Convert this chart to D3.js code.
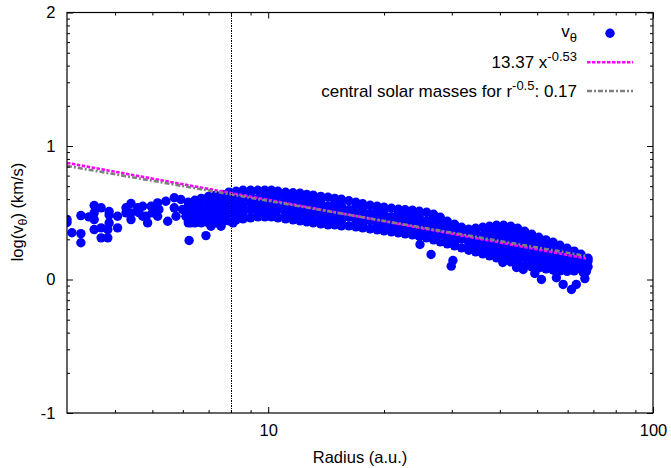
<!DOCTYPE html>
<html>
<head>
<meta charset="utf-8">
<script src="https://cdn.jsdelivr.net/npm/d3@7/dist/d3.min.js"></script>
<style>
  html, body { margin: 0; padding: 0; background: #fff; }
  svg { display: block; }
  text { font-family: "Liberation Sans", Arial, Helvetica, sans-serif; fill: #000; }
</style>
</head>
<body>
<svg id="chart" width="671" height="468"></svg>
<script>
// ---------------- data ----------------
const xMajorTicks = [10, 100];
const xMinorTicks = [4, 5, 6, 7, 8, 9, 20, 30, 40, 50, 60, 70, 80, 90];
const yMajorTicks = [-1, 0, 1, 2];
const markerRadius = 8;            // vertical line at r = 8 a.u.
const fitCoef = 13.37, fitExp = -0.53;
const solarMass = 0.17, keplerExp = -0.5;
const fitRange = [3, 67];

// dense band of v_theta points: [radius, [log v values]]
const bandColumns = [
  [6.2,  [0.579, 0.55, 0.495, 0.44, 0.424]],
  [6.45, [0.594, 0.578, 0.523, 0.468, 0.424]],
  [6.7,  [0.608, 0.55, 0.495, 0.44, 0.424]],
  [7.0,  [0.623, 0.578, 0.523, 0.468, 0.424]],
  [7.3,  [0.631, 0.605, 0.55, 0.495, 0.44, 0.424]],
  [7.6,  [0.638, 0.578, 0.523, 0.468, 0.432]],
  [7.9,  [0.653, 0.605, 0.55, 0.495, 0.439]],
  [8.25, [0.661, 0.633, 0.578, 0.523, 0.468, 0.447]],
  [8.6,  [0.668, 0.605, 0.55, 0.495, 0.454]],
  [9.0,  [0.668, 0.633, 0.578, 0.523, 0.462]],
  [9.4,  [0.668, 0.605, 0.55, 0.495, 0.469]],
  [9.8,  [0.668, 0.633, 0.578, 0.523, 0.469]],
  [10.2, [0.668, 0.605, 0.55, 0.495, 0.469]],
  [10.6, [0.661, 0.633, 0.578, 0.523, 0.462]],
  [11.1, [0.653, 0.605, 0.55, 0.495, 0.454]],
  [11.6, [0.65, 0.633, 0.578, 0.523, 0.468, 0.447]],
  [12.1, [0.646, 0.605, 0.55, 0.495, 0.439]],
  [12.6, [0.638, 0.578, 0.523, 0.468, 0.432]],
  [13.1, [0.631, 0.605, 0.55, 0.495, 0.44, 0.424]],
  [13.7, [0.623, 0.578, 0.523, 0.468, 0.417]],
  [14.3, [0.616, 0.55, 0.495, 0.44, 0.409]],
  [14.9, [0.608, 0.578, 0.523, 0.468, 0.409]],
  [15.5, [0.601, 0.55, 0.495, 0.44, 0.402]],
  [16.2, [0.59, 0.523, 0.468, 0.402]],
  [16.9, [0.579, 0.55, 0.495, 0.44, 0.394]],
  [17.6, [0.567, 0.523, 0.468, 0.413, 0.387]],
  [18.4, [0.556, 0.495, 0.44, 0.379]],
  [19.2, [0.549, 0.523, 0.468, 0.413, 0.372]],
  [20.0, [0.541, 0.495, 0.44, 0.385, 0.364]],
  [20.9, [0.534, 0.468, 0.413, 0.357]],
  [21.8, [0.526, 0.495, 0.44, 0.385, 0.349]],
  [22.7, [0.522, 0.468, 0.413, 0.358, 0.342]],
  [23.7, [0.519, 0.495, 0.44, 0.385, 0.334]],
  [24.7, [0.511, 0.468, 0.413, 0.358, 0.323]],
  [25.8, [0.504, 0.44, 0.385, 0.33, 0.312]],
  [26.9, [0.489, 0.468, 0.413, 0.358, 0.297]],
  [28.0, [0.466, 0.44, 0.385, 0.33, 0.282]],
  [29.2, [0.436, 0.413, 0.358, 0.303, 0.267]],
  [30.5, [0.414, 0.385, 0.33, 0.275, 0.252]],
  [31.8, [0.391, 0.358, 0.303, 0.237]],
  [33.2, [0.376, 0.33, 0.275, 0.219]],
  [34.6, [0.384, 0.358, 0.303, 0.248, 0.207]],
  [36.1, [0.391, 0.33, 0.275, 0.22, 0.192]],
  [37.6, [0.399, 0.358, 0.303, 0.248, 0.193, 0.177]],
  [39.2, [0.406, 0.385, 0.33, 0.275, 0.22, 0.162]],
  [40.9, [0.406, 0.358, 0.303, 0.248, 0.193, 0.147]],
  [42.7, [0.399, 0.385, 0.33, 0.275, 0.22, 0.165, 0.132]],
  [44.5, [0.384, 0.358, 0.303, 0.248, 0.193, 0.138, 0.117]],
  [46.4, [0.361, 0.33, 0.275, 0.22, 0.165, 0.106]],
  [48.4, [0.339, 0.303, 0.248, 0.193, 0.138, 0.095]],
  [50.5, [0.316, 0.275, 0.22, 0.165, 0.11, 0.087]],
  [52.7, [0.297, 0.248, 0.193, 0.138, 0.08]],
  [55.0, [0.279, 0.22, 0.165, 0.11, 0.072]],
  [57.3, [0.256, 0.193, 0.138, 0.083, 0.065]],
  [59.8, [0.234, 0.22, 0.165, 0.11, 0.061]],
  [62.4, [0.212, 0.193, 0.138, 0.083, 0.065]],
  [65.0, [0.189, 0.165, 0.11, 0.08]],
  [67.8, [0.159, 0.138, 0.095]]
];

// scattered v_theta points: [radius, log v]
const scatterPoints = [
  [3.0, 0.449], [3.0, 0.427], [3.09, 0.35], [3.26, 0.479], [3.26, 0.344], [3.26, 0.275],
  [3.42, 0.469], [3.53, 0.554], [3.53, 0.499], [3.53, 0.449], [3.53, 0.374],
  [3.68, 0.537], [3.68, 0.387], [3.68, 0.312], [3.83, 0.374], [3.83, 0.312],
  [3.86, 0.509], [3.86, 0.483], [3.86, 0.424], [4.06, 0.474], [4.06, 0.387],
  [4.27, 0.537], [4.27, 0.499], [4.40, 0.569], [4.40, 0.499], [4.40, 0.449],
  [4.58, 0.537], [4.61, 0.501], [4.72, 0.549], [4.72, 0.474], [4.82, 0.474], [4.86, 0.424],
  [4.96, 0.549], [5.0, 0.499], [5.16, 0.574], [5.2, 0.524], [5.16, 0.474],
  [5.42, 0.586], [5.48, 0.436], [5.70, 0.612], [5.70, 0.537], [5.76, 0.474],
  [5.93, 0.599], [5.99, 0.524], [6.11, 0.474], [6.23, 0.292], [6.3, 0.424],
  [6.6, 0.436], [6.89, 0.329], [7.10, 0.399], [7.54, 0.399], [8.1, 0.424],
  [24.8, 0.262], [26.5, 0.187], [30.2, 0.142], [29.9, 0.10],
  [40.7, 0.127], [44.2, 0.09], [46.0, 0.075],
  [49.3, 0.045], [51.3, 0.0], [56.1, 0.013], [55.9, 0.062], [58.4, -0.037],
  [61.4, -0.075], [63.2, -0.037], [65.8, 0.055], [66.5, 0.007], [67.1, 0.06]
];

// ---------------- chart ----------------
const svg = d3.select("#chart");
const L = 67, R = 653, T = 12.5, B = 413;
const FS = "16.5px", FSS = "12.5px";      // axis text
const LFS = "17px", LFSS = "13px";        // legend text
const x = d3.scaleLog().domain([3, 100]).range([L, R]);
const y = d3.scaleLinear().domain([-1, 2]).range([B, T]);

const yMinorTicks = [];
yMajorTicks.slice(0, -1).forEach(n => { for (let k = 2; k <= 9; k++) yMinorTicks.push(n + Math.log10(k)); });

svg.append("defs").append("clipPath").attr("id", "plotclip")
  .append("rect").attr("x", L).attr("y", T).attr("width", R - L).attr("height", B - T);

// points
const points = [];
bandColumns.forEach(([r, vs]) => vs.forEach(v => points.push([r, v])));
scatterPoints.forEach(p => points.push(p));

svg.append("g").attr("clip-path", "url(#plotclip)")
  .selectAll("circle").data(points).join("circle")
  .attr("cx", d => x(d[0])).attr("cy", d => y(d[1])).attr("r", 4.7)
  .attr("fill", "#0000ff");

// fit lines
const fitLine = d3.line().x(d => x(d[0])).y(d => y(d[1]));
const pinkData = fitRange.map(r => [r, Math.log10(fitCoef * Math.pow(r, fitExp))]);
const keplerCoef = 29.78 * Math.sqrt(solarMass);
const greyData = fitRange.map(r => [r, Math.log10(keplerCoef * Math.pow(r, keplerExp))]);

const PINK_DASH = "3.5,1.5", GREY_DASH = "5,2,2,2";
svg.append("path").attr("d", fitLine(pinkData)).attr("fill", "none")
  .attr("stroke", "#ff00ff").attr("stroke-width", 2.6).attr("stroke-dasharray", PINK_DASH);
svg.append("path").attr("d", fitLine(greyData)).attr("fill", "none")
  .attr("stroke", "#808080").attr("stroke-width", 2.6).attr("stroke-dasharray", GREY_DASH);

// vertical marker
const mx = Math.round(x(markerRadius)) + 0.5;
svg.append("line").attr("x1", mx).attr("x2", mx)
  .attr("y1", T).attr("y2", B).attr("stroke", "#000").attr("stroke-width", 1)
  .attr("stroke-dasharray", "1.5,1").attr("shape-rendering", "crispEdges");

// axes
function styleAxis(g) {
  g.select(".domain").remove();
  g.selectAll(".tick line").attr("stroke", "#000").attr("stroke-width", 1);
  g.selectAll("text").style("font-size", FS).style("font-family", "Liberation Sans, Arial, sans-serif");
}
const fmt = d => String(d);
svg.append("g").attr("transform", `translate(0,${B})`)
  .call(d3.axisBottom(x).tickValues(xMajorTicks).tickFormat(fmt).tickSize(-6).tickPadding(11)).call(styleAxis);
svg.append("g").attr("transform", `translate(0,${B})`)
  .call(d3.axisBottom(x).tickValues(xMinorTicks).tickFormat("").tickSize(-3)).call(styleAxis);
svg.append("g").attr("transform", `translate(0,${T})`)
  .call(d3.axisTop(x).tickValues(xMajorTicks).tickFormat("").tickSize(-6)).call(styleAxis);
svg.append("g").attr("transform", `translate(0,${T})`)
  .call(d3.axisTop(x).tickValues(xMinorTicks).tickFormat("").tickSize(-3)).call(styleAxis);
svg.append("g").attr("transform", `translate(${L},0)`)
  .call(d3.axisLeft(y).tickValues(yMajorTicks).tickFormat(fmt).tickSize(-6).tickPadding(11.5)).call(styleAxis);
svg.append("g").attr("transform", `translate(${L},0)`)
  .call(d3.axisLeft(y).tickValues(yMinorTicks).tickFormat("").tickSize(-3)).call(styleAxis);
svg.append("g").attr("transform", `translate(${R},0)`)
  .call(d3.axisRight(y).tickValues(yMajorTicks).tickFormat("").tickSize(-6)).call(styleAxis);
svg.append("g").attr("transform", `translate(${R},0)`)
  .call(d3.axisRight(y).tickValues(yMinorTicks).tickFormat("").tickSize(-3)).call(styleAxis);

// frame
svg.append("rect").attr("x", L).attr("y", T).attr("width", R - L).attr("height", B - T)
  .attr("fill", "none").attr("stroke", "#000").attr("stroke-width", 1.2);

// axis titles
svg.append("text").attr("x", 360).attr("y", 463).attr("text-anchor", "middle")
  .style("font-size", FS).text("Radius (a.u.)");
const yt = svg.append("text").attr("transform", "translate(23,212) rotate(-90)")
  .attr("text-anchor", "middle").style("font-size", FS);
yt.append("tspan").text("log(v");
yt.append("tspan").attr("dy", 4).style("font-size", FSS).text("θ");
yt.append("tspan").attr("dy", -4).text(") (km/s)");

// legend
const lgX = 577, lsX1 = 587, lsX2 = 633;
const t1 = svg.append("text").attr("x", lgX).attr("y", 37).attr("text-anchor", "end").style("font-size", LFS);
t1.append("tspan").text("v");
t1.append("tspan").attr("dy", 4.5).style("font-size", LFSS).text("θ");
svg.append("circle").attr("cx", 610).attr("cy", 33.3).attr("r", 4.7).attr("fill", "#0000ff");

const t2 = svg.append("text").attr("x", lgX).attr("y", 68).attr("text-anchor", "end").style("font-size", LFS);
t2.append("tspan").text("13.37 x");
t2.append("tspan").attr("dy", -7).style("font-size", LFSS).text("-0.53");
svg.append("line").attr("x1", lsX1).attr("x2", lsX2).attr("y1", 62.3).attr("y2", 62.3)
  .attr("stroke", "#ff00ff").attr("stroke-width", 2.6).attr("stroke-dasharray", PINK_DASH);

const t3 = svg.append("text").attr("x", lgX).attr("y", 97).attr("text-anchor", "end").style("font-size", LFS);
t3.append("tspan").text("central solar masses for r");
t3.append("tspan").attr("dy", -7).style("font-size", LFSS).text("-0.5");
t3.append("tspan").attr("dy", 7).text(": 0.17");
svg.append("line").attr("x1", lsX1).attr("x2", lsX2).attr("y1", 91).attr("y2", 91)
  .attr("stroke", "#808080").attr("stroke-width", 2.6).attr("stroke-dasharray", GREY_DASH);
</script>
</body>
</html>
